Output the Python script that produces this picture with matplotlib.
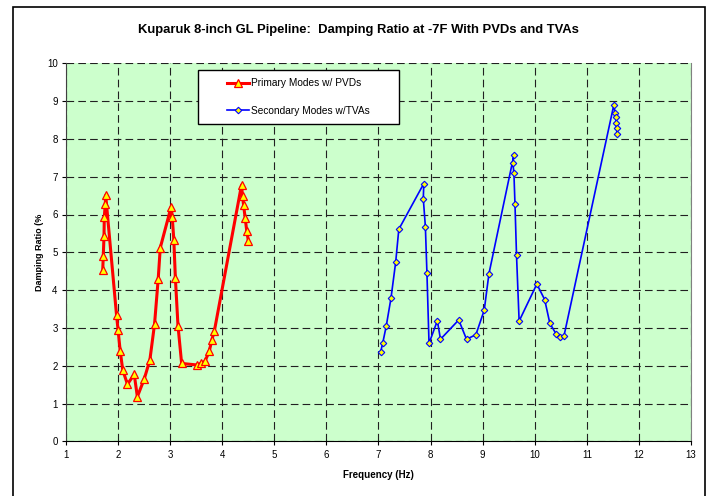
import matplotlib
matplotlib.use('Agg')
import matplotlib.pyplot as plt
from matplotlib.patches import Rectangle

plt.rcParams['font.family'] = ['Liberation Sans', 'DejaVu Sans']
plt.rcParams['lines.scale_dashes'] = False

# primary modes w/ PVDs (red)
pvd_freq = [1.705, 1.716, 1.73, 1.735, 1.755, 1.762, 1.97, 2.00, 2.04, 2.09,
            2.18, 2.31, 2.37, 2.50, 2.61, 2.70, 2.77, 2.81, 3.02, 3.04,
            3.07, 3.10, 3.15, 3.22, 3.51, 3.59, 3.67, 3.75, 3.80, 3.85,
            4.37, 4.39, 4.41, 4.44, 4.47, 4.50]
pvd_damp = [4.52, 4.91, 5.44, 5.93, 6.29, 6.51, 3.34, 2.94, 2.40, 1.88,
            1.51, 1.77, 1.18, 1.64, 2.15, 3.10, 4.29, 5.12, 6.21, 5.93,
            5.33, 4.32, 3.06, 2.06, 2.02, 2.06, 2.12, 2.38, 2.68, 2.93,
            6.78, 6.48, 6.24, 5.91, 5.57, 5.31]

# secondary modes w/ TVAs (blue)
tva_freq = [7.04, 7.08, 7.15, 7.24, 7.33, 7.39, 7.87, 7.86, 7.90, 7.93,
            7.97, 8.13, 8.19, 8.54, 8.69, 8.87, 9.03, 9.12, 9.60, 9.58,
            9.60, 9.62, 9.65, 9.70, 10.04, 10.19, 10.29, 10.41, 10.49, 10.56,
            11.52, 11.54, 11.56, 11.56, 11.57, 11.58]
tva_damp = [2.36, 2.59, 3.06, 3.79, 4.74, 5.61, 6.82, 6.42, 5.68, 4.45,
            2.59, 3.19, 2.70, 3.21, 2.70, 2.82, 3.47, 4.43, 7.57, 7.37,
            7.09, 6.29, 4.92, 3.18, 4.16, 3.75, 3.12, 2.84, 2.75, 2.78,
            8.91, 8.69, 8.59, 8.43, 8.28, 8.14]

xticks = list(range(1, 14))
yticks = list(range(0, 11))

fig = plt.figure(figsize=(7.12, 4.96), dpi=100)
ax = fig.add_axes([66/712, 1-441.3/496, 625/712, 378/496])
ax.set_facecolor('#CCFFCC')

# outer chart border
fig.patches.append(Rectangle((12.5/712, -0.02), (705-12.5)/712, 1.02-7/496,
                             transform=fig.transFigure, fill=False,
                             edgecolor='black', linewidth=1.2))

ax.plot(pvd_freq, pvd_damp, color='red', lw=2.2, marker='^', ms=5.5,
        mfc='yellow', mec='red', mew=0.9, label='Primary Modes w/ PVDs', zorder=3)
ax.plot(tva_freq, tva_damp, color='#0000FF', lw=1.2, marker='D', ms=3.3,
        mfc='yellow', mec='#0000FF', mew=0.8, label='Secondary Modes w/TVAs', zorder=3)

ax.set_xlim(1, 13)
ax.set_ylim(0, 10)
ax.set_xticks(xticks)
ax.set_yticks(yticks)
ax.tick_params(labelsize=7, length=3, width=0.8, direction='out', pad=3)
ax.grid(True, color='#202020', linestyle=(0, (5.5, 3)), linewidth=0.8)
ax.set_axisbelow(True)
ax.spines['top'].set_visible(False)
ax.spines['right'].set_color('#808080')
ax.spines['left'].set_color('#404040')
ax.spines['bottom'].set_color('black')

ax.set_xlabel('Frequency (Hz)', fontsize=7, fontweight='bold', labelpad=7.5)
ax.set_ylabel('Damping Ratio (%', fontsize=6.5, fontweight='bold', labelpad=2)

fig.text(0.504, 1-30/496, 'Kuparuk 8-inch GL Pipeline:  Damping Ratio at -7F With PVDs and TVAs',
         ha='center', va='center', fontsize=9.4, fontweight='bold')

# legend box
ax.add_patch(Rectangle(((198-66)/625, (441.3-124)/378), 201/625, 54/378,
                       transform=ax.transAxes, facecolor='white',
                       edgecolor='black', linewidth=1, zorder=4))
leg = ax.legend(loc='center', bbox_to_anchor=((298.5-66)/625, (441.3-97)/378),
                frameon=False, fontsize=7.3, labelspacing=1.7, handlelength=2.1,
                handletextpad=0.2)
leg.set_zorder(5)

fig.savefig('out.png', dpi=100)
